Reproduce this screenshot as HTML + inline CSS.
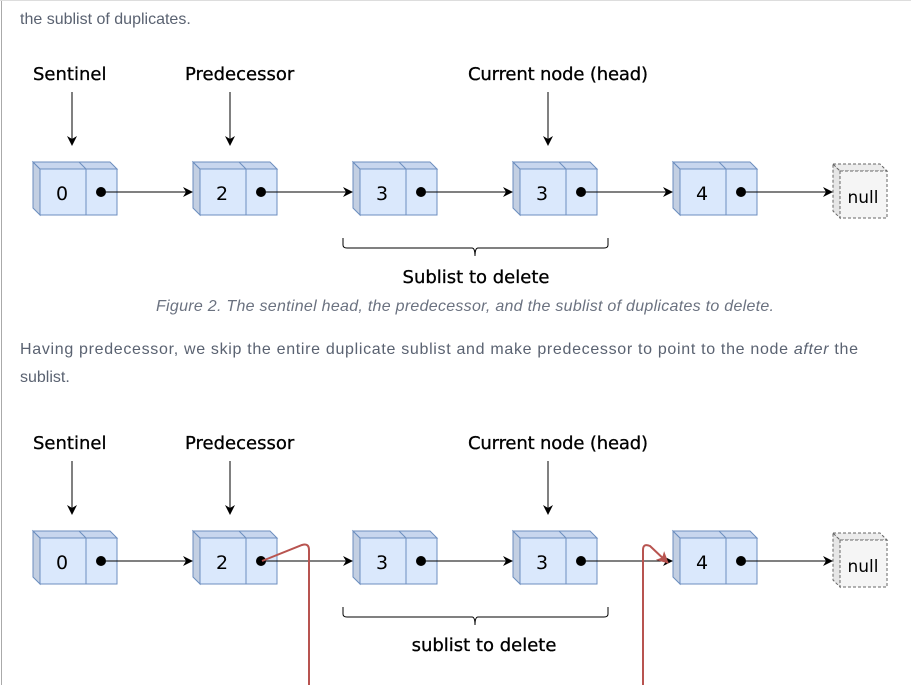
<!DOCTYPE html>
<html><head><meta charset="utf-8"><style>
html,body{margin:0;padding:0;background:#fff;}
svg{display:block}
.t{font-family:"Liberation Sans",sans-serif;font-size:16px;fill:#5a6271}
.c{font-family:"Liberation Sans",sans-serif;font-size:16px;fill:#6b7280;font-style:italic}
.l{font-family:"DejaVu Sans","Liberation Sans",sans-serif;font-size:18px;fill:#000;stroke:#000;stroke-width:0.3}
.n{font-family:"DejaVu Sans","Liberation Sans",sans-serif;font-size:19px;fill:#000}
</style></head><body>
<svg width="911" height="685" viewBox="0 0 911 685" xmlns="http://www.w3.org/2000/svg">
<defs>
<marker id="a" markerWidth="10" markerHeight="10" refX="9" refY="5" orient="auto" markerUnits="userSpaceOnUse"><path d="M0,0 L10,5 L0,10 L3,5 Z" fill="#000"/></marker>
<marker id="r" markerWidth="12" markerHeight="12" refX="11" refY="6" orient="auto" markerUnits="userSpaceOnUse"><path d="M0,0 L12,6 L0,12 L3,6 Z" fill="#b85450"/></marker>
<g id="node">
<path d="M33,162 L40,169 L40,215 L33,208 Z" fill="#c3cfe2" stroke="#6c8ebf"/>
<path d="M33,162 L110,162 L117,169 L40,169 Z" fill="#c8d6ee" stroke="#6c8ebf"/>
<line x1="79" y1="162" x2="86" y2="169" stroke="#6c8ebf"/>
<rect x="40" y="169" width="77" height="46" fill="#dae8fc" stroke="#6c8ebf"/>
<line x1="86" y1="169" x2="86" y2="215" stroke="#6c8ebf"/>
<circle cx="101" cy="192" r="5" fill="#000"/>
</g>
<g id="null">
<path d="M833,164 L840,171 L840,218 L833,211 Z" fill="#e6e6e6" stroke="#666" stroke-dasharray="3,2"/>
<path d="M833,164 L880,164 L887,171 L840,171 Z" fill="#ececec" stroke="#666" stroke-dasharray="3,2"/>
<rect x="840" y="171" width="47" height="47" fill="#f5f5f5" stroke="#666" stroke-dasharray="3,2"/>
</g>
<g id="diag">
<text class="l" x="33" y="80">Sentinel</text>
<text class="l" x="185" y="80">Predecessor</text>
<text class="l" x="468" y="80" textLength="180">Current node (head)</text>
<line x1="72" y1="92" x2="72" y2="145" stroke="#000" marker-end="url(#a)"/>
<line x1="230" y1="92" x2="230" y2="145" stroke="#000" marker-end="url(#a)"/>
<line x1="548" y1="92" x2="548" y2="145" stroke="#000" marker-end="url(#a)"/>
<use href="#node"/>
<use href="#node" x="160"/>
<use href="#node" x="320"/>
<use href="#node" x="480"/>
<use href="#node" x="640"/>
<use href="#null"/>
<text class="n" x="62" y="200" text-anchor="middle">0</text>
<text class="n" x="222" y="200" text-anchor="middle">2</text>
<text class="n" x="382" y="200" text-anchor="middle">3</text>
<text class="n" x="542" y="200" text-anchor="middle">3</text>
<text class="n" x="702" y="200" text-anchor="middle">4</text>
<text class="n" x="863" y="203" text-anchor="middle" style="font-size:17px">null</text>
<line x1="101" y1="192" x2="192" y2="192" stroke="#000" marker-end="url(#a)"/>
<line x1="261" y1="192" x2="352" y2="192" stroke="#000" marker-end="url(#a)"/>
<line x1="421" y1="192" x2="512" y2="192" stroke="#000" marker-end="url(#a)"/>
<line x1="581" y1="192" x2="672" y2="192" stroke="#000" marker-end="url(#a)"/>
<line x1="741" y1="192" x2="832" y2="192" stroke="#000" marker-end="url(#a)"/>
<path d="M343,238 L343,245 Q343,248 347,248 L472,248 Q475,248 475,256 Q475,248 478,248 L604,248 Q608,248 608,245 L608,238" fill="none" stroke="#000"/>
</g>
</defs>
<line x1="1.5" y1="0" x2="1.5" y2="685" stroke="#aaa"/>
<line x1="0" y1="0.5" x2="911" y2="0.5" stroke="#ddd"/>
<text class="t" x="20" y="24">the sublist of duplicates.</text>
<use href="#diag"/>
<text class="l" x="476" y="283" text-anchor="middle">Sublist to delete</text>
<text class="c" x="156" y="311" textLength="618">Figure 2. The sentinel head, the predecessor, and the sublist of duplicates to delete.</text>
<text class="t" x="20" y="354" textLength="838">Having predecessor, we skip the entire duplicate sublist and make predecessor to point to the node <tspan font-style="italic">after</tspan> the</text>
<text class="t" x="20" y="382">sublist.</text>
<use href="#diag" y="369"/>
<text class="l" x="484" y="651" text-anchor="middle">sublist to delete</text>
<path d="M262,561 L302,545 Q309,543 309,550 L309,685" fill="none" stroke="#b85450" stroke-width="2"/>
<path d="M643,685 L643,550 Q643,543 650,546 L668,563" fill="none" stroke="#b85450" stroke-width="2" marker-end="url(#r)"/>
</svg>
</body></html>
